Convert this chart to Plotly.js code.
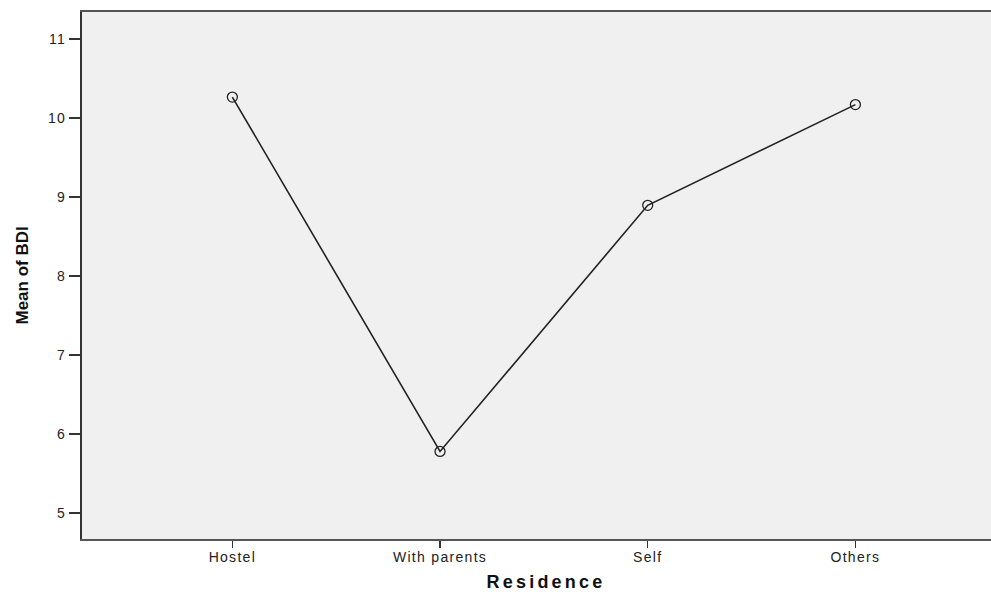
<!DOCTYPE html>
<html>
<head>
<meta charset="utf-8">
<script src="https://cdn.plot.ly/plotly-3.0.1.min.js"></script>
<style>
html,body{margin:0;padding:0;background:#fff;}
#chart{width:991px;height:592px;}
.xtick text, .ytick text{letter-spacing:1.3px;}
</style>
</head>
<body>
<div id="chart"></div>
<script>
const residence = ["Hostel", "With parents", "Self", "Others"];
const meanBDI = [10.26, 5.775, 8.89, 10.165];
const yTicks = [5, 6, 7, 8, 9, 10, 11];
const xTitle = "Residence";
const yTitle = "Mean of BDI";

const trace = {
  x: residence,
  y: meanBDI,
  type: "scatter",
  mode: "lines+markers",
  line: {color: "#222", width: 1.6},
  marker: {symbol: "circle-open", size: 10, color: "#222", line: {width: 1.3, color: "#222"}},
  hoverinfo: "x+y"
};

const layout = {
  width: 991,
  height: 592,
  margin: {l: 82, r: 0, t: 12, b: 53},
  paper_bgcolor: "#ffffff",
  plot_bgcolor: "#F0F0F0",
  showlegend: false,
  xaxis: {
    type: "category",
    range: [-0.724, 3.653],
    showgrid: false,
    zeroline: false,
    showline: true,
    linecolor: "#555",
    linewidth: 2,
    mirror: true,
    ticks: "outside",
    ticklen: 7,
    tickwidth: 1.5,
    tickcolor: "#333",
    ticklabelstandoff: -3,
    tickfont: {family: "Liberation Sans, Arial, sans-serif", size: 14, color: "#222"}
  },
  yaxis: {
    range: [4.667, 11.337],
    tickvals: yTicks,
    ticktext: yTicks.map(String),
    showgrid: false,
    zeroline: false,
    showline: true,
    linecolor: "#333",
    linewidth: 2,
    ticks: "outside",
    ticklen: 11,
    tickwidth: 2,
    tickcolor: "#333",
    tickfont: {family: "Liberation Sans, Arial, sans-serif", size: 14, color: "#222"}
  },
  annotations: [
    {text: xTitle, xref: "paper", yref: "paper", x: 0.5, y: 0, xshift: 9, yshift: -43,
     xanchor: "center", yanchor: "middle", showarrow: false,
     font: {family: "Liberation Sans, Arial, sans-serif", size: 18, color: "#111", weight: "bold"}},
    {text: yTitle, xref: "paper", yref: "paper", x: 0, y: 0.5, xshift: -60, yshift: 0, textangle: -90,
     xanchor: "center", yanchor: "middle", showarrow: false,
     font: {family: "Liberation Sans, Arial, sans-serif", size: 17, color: "#111", weight: "bold"}}
  ]
};

Plotly.newPlot("chart", [trace], layout, {displayModeBar: false, staticPlot: true}).then(function () {
  document.querySelectorAll(".annotation-text").forEach(function (t) {
    if (t.textContent === xTitle) t.style.letterSpacing = "3.2px";
  });
});
</script>
</body>
</html>
